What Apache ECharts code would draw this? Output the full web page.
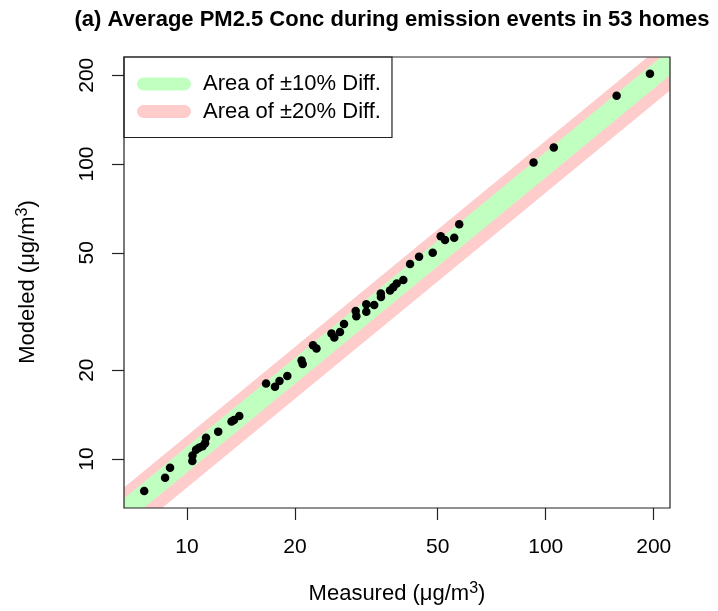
<!DOCTYPE html>
<html><head><meta charset="utf-8">
<script src="https://cdn.jsdelivr.net/npm/echarts@6/dist/echarts.min.js"></script>
<style>html,body{margin:0;padding:0;background:#fff}#c{width:718px;height:611px}</style>
</head><body><div id="c"></div>
<script>
// ---- data ----
const measured = [7.60, 8.69, 8.97, 10.35, 10.36, 10.60, 10.80, 11.05, 11.23, 11.30, 12.22, 13.31, 13.52, 13.99,
  16.61, 17.59, 18.11, 19.04, 20.86, 21.02, 22.45, 22.96, 25.28, 25.74, 26.70, 27.40, 29.53, 29.65, 31.61, 31.61,
  33.25, 34.69, 34.73, 36.81, 37.60, 38.43, 40.09, 41.86, 44.35, 48.41, 50.96, 52.39, 55.58, 57.39, 92.47, 105.3, 157.6, 195.2];
const modeled = [7.79, 8.64, 9.34, 9.85, 10.28, 10.75, 10.92, 11.04, 11.30, 11.81, 12.38, 13.40, 13.56, 13.99,
  18.03, 17.58, 18.38, 19.11, 21.58, 20.99, 24.29, 23.69, 26.64, 25.82, 26.95, 28.69, 31.75, 30.46, 33.48, 31.58,
  33.27, 36.40, 35.42, 37.26, 38.20, 39.36, 40.45, 45.82, 48.51, 50.05, 56.87, 55.25, 56.21, 62.45, 101.2, 113.7, 170.4, 202.2];
const xTickValues = [10, 20, 50, 100, 200];
const yTickValues = [10, 20, 50, 100, 200];
const xRange = [6.675, 222];
const yRange = [6.82, 230.6];
const band10 = [0.9, 1.1];
const band20 = [0.8, 1.2];
const legendNames = ['Area of \u00b110% Diff.', 'Area of \u00b120% Diff.'];
const titleText = '(a) Average PM2.5 Conc during emission events in 53 homes';

// ---- layout / style ----
const G = {left: 124, top: 57, width: 546, height: 451};
const FONT = 'Liberation Sans, Arial, sans-serif';
const GREEN = '#C1FFC1', PINK = '#FFCCCC';
const capsule = 'path://M6.5,0 L47.5,0 A6.5,6.5 0 0 1 47.5,13 L6.5,13 A6.5,6.5 0 0 1 6.5,0 Z';

const points = measured.map((m, i) => [m, modeled[i]]);

function bandItem(params, api) {
  const lo = api.value(0), hi = api.value(1);
  const x0 = xRange[0] / 3, x1 = xRange[1] * 3;
  const pts = [api.coord([x0, x0 * hi]), api.coord([x1, x1 * hi]), api.coord([x1, x1 * lo]), api.coord([x0, x0 * lo])];
  return {type: 'polygon', shape: {points: pts}, style: {fill: api.visual('color')}};
}

const chart = echarts.init(document.getElementById('c'), null, {renderer: 'canvas'});
const axisCommon = (ticks) => ({
  type: 'log', logBase: 10,
  axisLine: {show: false},
  splitLine: {show: false},
  minorTick: {show: false},
  axisTick: {show: true, length: 12, customValues: ticks, lineStyle: {color: '#222', width: 1.2}},
  axisLabel: {customValues: ticks, fontSize: 21, fontFamily: FONT, color: '#000',
    formatter: v => String(Math.round(v))}
});
const xAxis = Object.assign(axisCommon(xTickValues), {min: xRange[0], max: xRange[1]});
xAxis.axisLabel.margin = 29;
const yAxis = Object.assign(axisCommon(yTickValues), {min: yRange[0], max: yRange[1]});
yAxis.axisLabel.margin = 26;
yAxis.axisLabel.rotate = 90;

chart.setOption({
  animation: false,
  backgroundColor: '#fff',
  grid: Object.assign({show: false}, G),
  xAxis: xAxis,
  yAxis: yAxis,
  legend: {
    left: G.left, top: G.top, orient: 'vertical', selectedMode: false,
    padding: [14, 11, 13, 13], itemGap: 1.5, itemWidth: 54, itemHeight: 13,
    borderColor: '#222', borderWidth: 1.2, backgroundColor: '#fff',
    textStyle: {fontSize: 22, fontFamily: FONT, color: '#000', lineHeight: 26, padding: [0, 0, 0, 7]},
    data: [{name: legendNames[0], icon: capsule}, {name: legendNames[1], icon: capsule}]
  },
  series: [
    {type: 'custom', name: legendNames[1], clip: true, renderItem: bandItem, itemStyle: {color: PINK},
      data: [band20], silent: true},
    {type: 'custom', name: legendNames[0], clip: true, renderItem: bandItem, itemStyle: {color: GREEN},
      data: [band10], silent: true},
    {type: 'scatter', symbol: 'circle', symbolSize: 8.5, itemStyle: {color: '#000', opacity: 1}, data: points, z: 5}
  ],
  graphic: [
    {type: 'rect', z: 100, silent: true, shape: {x: G.left, y: G.top, width: G.width, height: G.height},
      style: {fill: null, stroke: '#222', lineWidth: 1.2}},
    {type: 'text', z: 100, x: 392, y: 20, style: {text: titleText, fontSize: 22, fontWeight: 'bold',
      fontFamily: FONT, fill: '#000', align: 'center', verticalAlign: 'middle'}},
    {type: 'text', z: 100, x: 397, y: 594, style: {
      text: '{a|Measured (\u03bcg/m}{s|3}{a|)}', align: 'center', verticalAlign: 'middle',
      rich: {a: {fontSize: 22, fontFamily: FONT, fill: '#000', lineHeight: 26},
             s: {fontSize: 16, fontFamily: FONT, fill: '#000', verticalAlign: 'top', lineHeight: 16}}}},
    {type: 'text', z: 100, x: 28, y: 282, rotation: Math.PI / 2, style: {
      text: '{a|Modeled (\u03bcg/m}{s|3}{a|)}', align: 'center', verticalAlign: 'middle',
      rich: {a: {fontSize: 22, fontFamily: FONT, fill: '#000', lineHeight: 26},
             s: {fontSize: 16, fontFamily: FONT, fill: '#000', verticalAlign: 'top', lineHeight: 16}}}}
  ]
});
</script>
</body></html>
